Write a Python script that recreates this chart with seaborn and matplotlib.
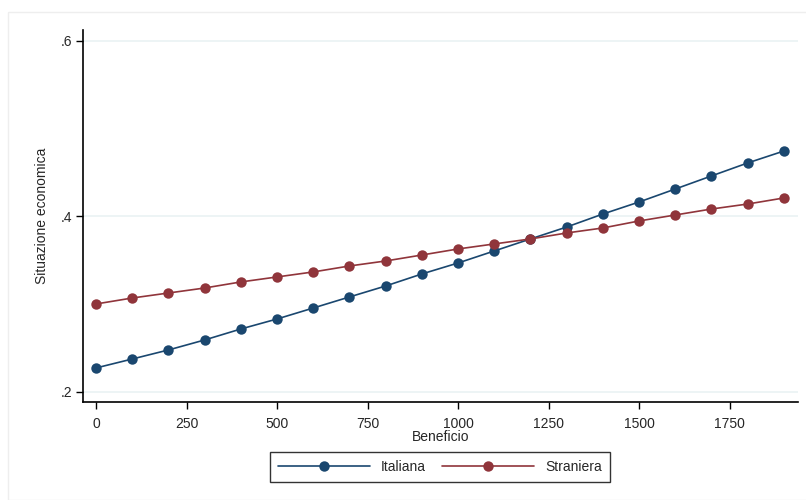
import numpy as np
import pandas as pd
import matplotlib
matplotlib.use("Agg")
import matplotlib.pyplot as plt
import seaborn as sns

# data
beneficio = list(range(0, 2000, 100))
italiana = [0.2274, 0.2376, 0.2479, 0.2593, 0.2718, 0.2832, 0.2957, 0.3083, 0.3208, 0.3345,
            0.3470, 0.3607, 0.3744, 0.3880, 0.4028, 0.4165, 0.4313, 0.4462, 0.4610, 0.4746]
straniera = [0.3003, 0.3071, 0.3128, 0.3185, 0.3254, 0.3311, 0.3368, 0.3436, 0.3493, 0.3561,
             0.3630, 0.3687, 0.3744, 0.3812, 0.3869, 0.3949, 0.4017, 0.4085, 0.4142, 0.4211]
groups = ["Italiana", "Straniera"]
x_ticks = [0, 250, 500, 750, 1000, 1250, 1500, 1750]
y_ticks = [0.2, 0.4, 0.6]
y_ticklabels = [".2", ".4", ".6"]

df = pd.DataFrame({
    "Beneficio": beneficio * 2,
    "value": italiana + straniera,
    "group": [groups[0]] * len(beneficio) + [groups[1]] * len(beneficio),
})

sns.set_style("white")
plt.rcParams["font.family"] = ["Liberation Sans", "DejaVu Sans"]

palette = {"Italiana": "#1a476f", "Straniera": "#90353b"}

fig = plt.figure(figsize=(8.06, 5.0), dpi=100)
ax = fig.add_axes([83 / 806, 1 - 402 / 500, (798 - 83) / 806, (402 - 30) / 500])

# faint outer frame
fig.add_artist(plt.Rectangle((8 / 806, 0.0), 1.0, 1 - 12 / 500, transform=fig.transFigure,
                             fill=False, edgecolor="#eeeeee", linewidth=1.0))

sns.lineplot(data=df, x="Beneficio", y="value", hue="group", palette=palette,
             marker="o", markersize=7.5, markeredgewidth=0, linewidth=1.2, ax=ax)

ax.set_xlim(-36, 1939)
ax.set_ylim(0.1886, 0.6125)
ax.set_xticks(x_ticks)
ax.set_yticks(y_ticks)
ax.set_yticklabels(y_ticklabels)
ax.grid(axis="y", color="#eaf2f3", linewidth=1.2)
ax.set_axisbelow(True)
ax.tick_params(axis="both", direction="out", length=5, width=1, color="black",
               labelsize=10, pad=3, left=True, bottom=True)
ax.tick_params(axis="x", pad=6)
ax.set_xlabel("Beneficio", fontsize=10, labelpad=-1)
ax.set_ylabel("Situazione economica", fontsize=10, labelpad=8)

for side in ["top", "right"]:
    ax.spines[side].set_visible(False)
ax.spines["left"].set_color("black")
ax.spines["bottom"].set_color("black")
ax.spines["left"].set_linewidth(1.2)
ax.spines["bottom"].set_linewidth(1.2)

ax.legend_.remove()
handles, labels = ax.get_legend_handles_labels()
leg = fig.legend(handles, labels, loc="center", bbox_to_anchor=(440 / 806, 1 - 467 / 500),
                 ncol=2, frameon=True, fancybox=False, edgecolor="black",
                 handlelength=6.6, handletextpad=0.8, columnspacing=1.2,
                 fontsize=10, borderpad=0.6, borderaxespad=0)
leg.get_frame().set_linewidth(1.0)

fig.savefig("out.png", dpi=100)
